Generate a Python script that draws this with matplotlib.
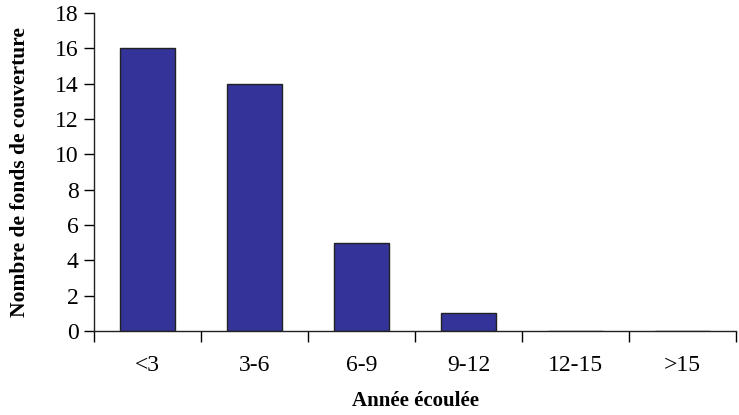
import matplotlib.pyplot as plt
import numpy as np

plt.rcParams['font.family'] = ['Liberation Serif', 'DejaVu Serif']

categories = ['<3', '3-6', '6-9', '9-12', '12-15', '>15']
counts = [16, 14, 5, 1, 0, 0]

fig = plt.figure(figsize=(7.39, 4.15), dpi=100)
ax = fig.add_axes([0.1272, 0.2024, 0.869, 0.7663])

x = np.arange(len(categories))
ax.bar(x, counts, width=0.51, color='#333399', edgecolor='#222222', linewidth=1.0)

ax.set_xlim(-0.5, len(categories) - 0.5)
ax.set_ylim(0, 18)
ax.set_yticks(range(0, 19, 2))

# separators between categories as major ticks, labels on minor ticks
ax.set_xticks(np.arange(-0.5, len(categories), 1.0))
ax.set_xticklabels([])
ax.set_xticks(x, minor=True)
ax.set_xticklabels(categories, minor=True)
ax.tick_params(axis='x', which='minor', length=0, pad=17, labelsize=17)
ax.tick_params(axis='x', which='major', length=8, width=1, direction='out')
ax.tick_params(axis='y', length=7, width=1, direction='out', labelsize=17, pad=4)

for side in ['top', 'right']:
    ax.spines[side].set_visible(False)
for side in ['left', 'bottom']:
    ax.spines[side].set_linewidth(1)
    ax.spines[side].set_color('#222222')

ax.set_xlabel('Année écoulée', fontsize=15, fontweight='bold', labelpad=11)
ax.set_ylabel('Nombre de fonds de couverture', fontsize=15.5, fontweight='bold', labelpad=18)

fig.savefig('out.png', dpi=100)
